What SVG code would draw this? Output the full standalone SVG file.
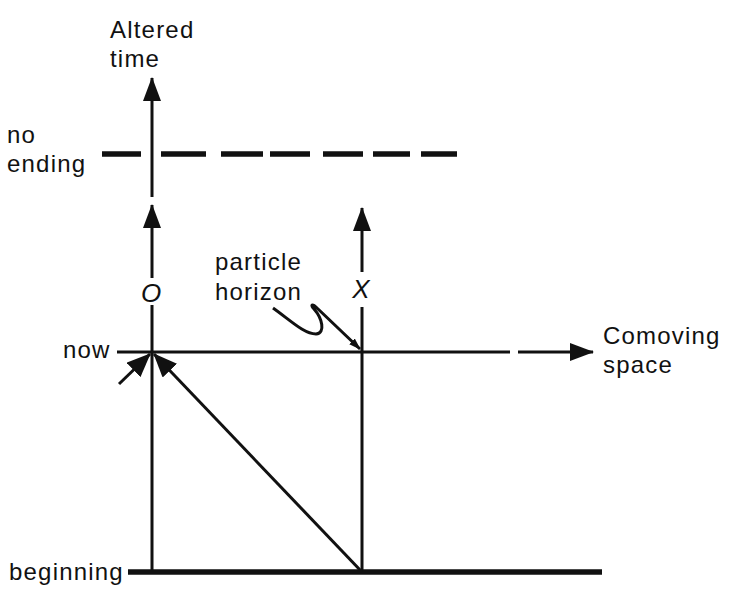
<svg xmlns="http://www.w3.org/2000/svg" width="731" height="600" viewBox="0 0 731 600">
<style>
.t{font-family:"Liberation Sans",Arial,sans-serif;font-size:24px;letter-spacing:1.2px;fill:#111}
.i{font-family:"Liberation Sans",Arial,sans-serif;font-size:26px;font-style:italic;fill:#111}
.ln{stroke:#111;stroke-width:3;fill:none}
.thick{stroke:#111;stroke-width:5.5;fill:none}
</style>
<defs>
<marker id="ah" viewBox="0 0 24 18" refX="23" refY="9" markerWidth="24" markerHeight="18" markerUnits="userSpaceOnUse" orient="auto">
<path d="M0,0 L24,9 L0,18 z" fill="#111"/>
</marker>
<marker id="ahb" viewBox="0 0 24 20" refX="23" refY="10" markerWidth="24" markerHeight="20" markerUnits="userSpaceOnUse" orient="auto">
<path d="M0,0 L24,10 L0,20 z" fill="#111"/>
</marker>
<marker id="ahs" viewBox="0 0 12 8" refX="11" refY="4" markerWidth="12" markerHeight="8" markerUnits="userSpaceOnUse" orient="auto">
<path d="M0,0 L12,4 L0,8 z" fill="#111"/>
</marker>
</defs>
<rect width="731" height="600" fill="#fff"/>
<g id="connectors">
<line class="ln" x1="152" y1="197" x2="152" y2="78" marker-end="url(#ah)"/>
<line class="ln" x1="152" y1="278" x2="152" y2="205" marker-end="url(#ah)"/>
<line class="ln" x1="152" y1="305" x2="152" y2="573"/>
<line class="ln" x1="362" y1="272" x2="362" y2="208" marker-end="url(#ah)"/>
<line class="ln" x1="362" y1="307" x2="362" y2="573"/>
<path class="thick" d="M102,154H141M161,154H206M221,154H263M270,154H310M323,154H363M373,154H410M421,154H457"/>
<line class="ln" x1="117" y1="352" x2="510" y2="352"/>
<line class="ln" x1="518" y1="352" x2="593" y2="352" marker-end="url(#ah)"/>
<line class="thick" x1="128" y1="572" x2="602" y2="572"/>
<line class="ln" x1="362" y1="572" x2="154" y2="354" marker-end="url(#ahb)"/>
<line class="ln" stroke-width="3.5" x1="119" y1="384" x2="150" y2="354" marker-end="url(#ahb)"/>
<path class="ln" stroke-width="2" d="M273,308 C290,320 304,334 316,334 C326,333 322,318 314,309 C310,305 312,303 317,308 L360,349" marker-end="url(#ahs)"/>
</g>
<g id="axis-time"><text class="t" x="110" y="38">Altered</text><text class="t" x="110" y="67">time</text></g>
<g id="no-ending"><text class="t" x="7" y="143">no</text><text class="t" x="7" y="172">ending</text></g>
<g id="now"><text class="t" x="63" y="358">now</text></g>
<g id="beginning"><text class="t" x="9" y="580">beginning</text></g>
<g id="axis-space"><text class="t" x="603" y="344">Comoving</text><text class="t" x="603" y="373">space</text></g>
<g id="particle-horizon"><text class="t" x="215" y="270">particle</text><text class="t" x="215" y="300">horizon</text></g>
<g id="O"><text class="i" x="151" y="302" text-anchor="middle">O</text></g>
<g id="X"><text class="i" x="361" y="298" text-anchor="middle">X</text></g>
</svg>
